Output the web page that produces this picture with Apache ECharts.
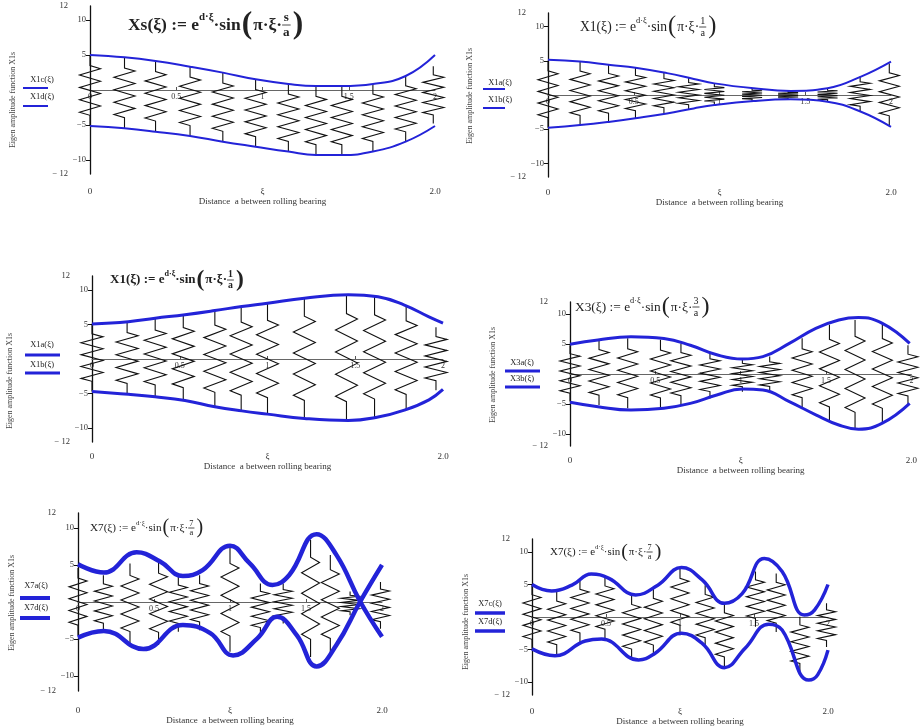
<!DOCTYPE html>
<html><head><meta charset="utf-8">
<script src="https://cdn.jsdelivr.net/npm/echarts@6/dist/echarts.min.js"></script>
<style>html,body{margin:0;padding:0;background:#fff}#c{width:920px;height:727px}</style>
</head><body><div id="c"></div>
<script>
// ---------------- DATA ----------------
// Panel 1 : Xs
const p1X      = [0, 0.2, 0.38, 0.58, 0.77, 0.96, 1.15, 1.31, 1.46, 1.64, 1.83, 2.0];
const p1Upper  = [5.0, 4.67, 4.14, 3.33, 2.48, 1.52, 0.86, 0.57, 0.57, 0.86, 2.0, 5.0];
const p1Lower  = [-5.14, -5.48, -5.95, -6.57, -7.38, -8.1, -8.8, -9.29, -9.29, -8.8, -7.38, -5.14];
const p1SpringX   = [0, 0.2, 0.38, 0.58, 0.77, 0.96, 1.15, 1.31, 1.46, 1.64, 1.83, 1.99];
const p1SpringTop = [5.0, 4.67, 4.14, 3.33, 2.48, 1.52, 0.86, 0.57, 0.57, 0.86, 2.0, 3.4];
const p1SpringBot = [-5.14, -5.48, -5.95, -6.57, -7.38, -8.1, -8.8, -9.29, -9.29, -8.8, -7.38, -4.8];
// Panel 2 : X1 (pinched)
const p2X      = [0, 0.187, 0.363, 0.51, 0.694, 0.85, 0.97, 1.2, 1.415, 1.63, 1.825, 2.0];
const p2Upper  = [5.15, 4.9, 4.4, 4.0, 3.2, 2.35, 1.7, 0.98, 0.6, 0.98, 2.7, 4.9];
const p2Lower  = [-4.8, -4.4, -3.9, -3.4, -2.7, -1.96, -1.47, -0.88, -0.64, -0.98, -2.45, -4.66];
const p2SpringX   = [0, 0.187, 0.353, 0.51, 0.676, 0.82, 0.97, 1.19, 1.40, 1.63, 1.82, 1.99];
const p2SpringTop = [5.0, 4.9, 4.4, 4.0, 3.3, 2.5, 1.7, 1.0, 0.6, 1.0, 2.7, 4.6];
const p2SpringBot = [-4.8, -4.4, -3.9, -3.4, -2.75, -2.1, -1.5, -0.9, -0.64, -1.0, -2.4, -4.4];
// Panel 3 : X1 (bulged)
const p3X      = [0, 0.207, 0.36, 0.53, 0.70, 0.853, 1.0, 1.21, 1.46, 1.63, 1.78, 1.92, 2.0];
const p3Upper  = [5.07, 5.4, 5.9, 6.4, 7.0, 7.6, 8.07, 8.8, 9.3, 9.0, 7.8, 6.1, 5.2];
const p3Lower  = [-4.7, -5.1, -5.46, -6.0, -6.9, -7.5, -7.97, -8.6, -8.9, -8.4, -7.4, -5.9, -4.4];
const p3SpringX   = [0, 0.2, 0.36, 0.52, 0.70, 0.85, 1.0, 1.21, 1.45, 1.61, 1.79, 1.96];
const p3SpringTop = [5.1, 5.4, 5.9, 6.4, 7.0, 7.6, 8.0, 8.8, 9.3, 9.0, 7.8, 4.6];
const p3SpringBot = [-4.7, -5.1, -5.46, -6.0, -6.9, -7.5, -8.0, -8.6, -8.9, -8.4, -7.4, -4.5];
// Panel 4 : X3
const p4X      = [0, 0.164, 0.357, 0.55, 0.705, 0.86, 1.01, 1.13, 1.285, 1.44, 1.575, 1.69, 1.83, 1.99];
const p4Upper  = [4.95, 5.67, 6.2, 5.9, 4.8, 3.2, 2.5, 2.9, 5.1, 7.6, 9.0, 9.4, 8.45, 5.1];
const p4Lower  = [-4.7, -5.45, -6.0, -5.7, -4.9, -3.5, -2.5, -2.65, -4.6, -6.8, -8.5, -9.2, -8.2, -4.9];
const p4SpringX   = [0, 0.17, 0.338, 0.53, 0.65, 0.82, 1.01, 1.17, 1.36, 1.52, 1.67, 1.83, 1.98];
const p4SpringTop = [4.8, 5.7, 5.95, 5.7, 5.1, 3.7, 2.6, 2.9, 5.95, 8.2, 9.0, 8.4, 4.8];
const p4SpringBot = [-4.6, -5.17, -5.7, -5.7, -5.17, -4.1, -2.95, -2.95, -5.7, -7.9, -9.1, -8.2, -5.17];
// Panel 5 : X7 (crossing)
const p5UpperX = [0, 0.17, 0.386, 0.54, 0.69, 0.82, 1.0, 1.13, 1.28, 1.39, 1.57, 1.70, 1.855, 2.0];
const p5Upper  = [5.1, 3.97, 6.7, 5.45, 3.5, 4.3, 7.6, 5.2, 2.3, 3.65, 9.15, 6.35, 0.1, -4.7];
const p5LowerX = [0, 0.17, 0.43, 0.69, 0.87, 1.02, 1.18, 1.31, 1.44, 1.57, 1.70, 1.855, 2.0];
const p5Lower  = [-4.8, -3.9, -6.35, -3.1, -4.2, -7.2, -4.9, -2.0, -4.5, -8.7, -5.8, 0, 5.0];
const p5SpringX   = [0, 0.167, 0.342, 0.53, 0.66, 0.80, 1.0, 1.20, 1.35, 1.53, 1.66, 1.79, 1.99];
const p5SpringTop = [4.6, 3.6, 5.2, 5.6, 3.4, 3.6, 7.3, 2.5, 2.5, 8.4, 6.35, 1.4, 2.7];
const p5SpringBot = [-4.5, -4.0, -5.6, -5.8, -4.0, -3.8, -6.7, -4.5, -2.9, -7.4, -6.9, -1.8, -3.6];
// Panel 6 : X7
const p6UpperX = [0, 0.133, 0.27, 0.40, 0.52, 0.70, 0.85, 1.01, 1.15, 1.30, 1.42, 1.57, 1.69, 1.84, 1.91, 2.0];
const p6Upper  = [5.0, 4.0, 4.9, 6.6, 5.95, 3.4, 4.9, 7.6, 5.7, 2.1, 3.6, 9.0, 7.0, 0.3, 1.1, 5.0];
const p6LowerX = [0, 0.155, 0.36, 0.47, 0.72, 0.83, 1.01, 1.15, 1.30, 1.44, 1.60, 1.69, 1.87, 1.93, 2.0];
const p6Lower  = [-4.9, -5.95, -3.7, -3.4, -6.6, -5.6, -2.5, -4.05, -7.8, -4.8, -1.1, -2.0, -9.7, -8.9, -5.1];
const p6SpringX   = [0, 0.167, 0.324, 0.493, 0.673, 0.82, 1.0, 1.17, 1.30, 1.51, 1.65, 1.81, 1.99];
const p6SpringTop = [4.9, 3.9, 5.7, 6.2, 3.4, 4.4, 7.5, 4.9, 2.1, 7.0, 6.7, 0.05, 2.1];
const p6SpringBot = [-4.9, -5.7, -3.9, -3.3, -6.4, -5.85, -2.8, -4.6, -7.6, -1.5, -2.3, -8.4, -4.6];

// tick labels / texts
const xZeroTicks   = [0, 0.5, 1, 1.5, 2];
const xBottomTicks = [0, 1, 2];
const xBottomLabels = {0: '0', 1: 'ξ', 2: '2.0'};
const yTickValues  = [-10, -5, 5, 10];
const yLabelValues = [-12, -10, -5, 5, 10, 12];
const legendNames = [['X1c(ξ)', 'X1d(ξ)'], ['X1a(ξ)', 'X1b(ξ)'], ['X1a(ξ)', 'X1b(ξ)'],
                     ['X3a(ξ)', 'X3b(ξ)'], ['X7a(ξ)', 'X7d(ξ)'], ['X7c(ξ)', 'X7d(ξ)']];
const formulaNames = ['Xs', 'X1', 'X1', 'X3', 'X7', 'X7'];
const formulaNums  = ['s', '1', '1', '3', '7', '7'];
const yTitle = 'Eigen amplitude function X1s';
const xTitle = 'Distance  a between rolling bearing';

// ---------------- LAYOUT / STYLE ----------------
const BLUE = '#2323d8';
const FONT = 'Liberation Serif';
const panels = [
  {grid:{left:90, top:6, width:345, height:168}, ux:p1X, u:p1Upper, lx:p1X, l:p1Lower,
   sx:p1SpringX, st:p1SpringTop, sb:p1SpringBot, lw:2, sw:10.5, lm:13, ng:21,
   yt:[13,100], f:{x:128, y:25, w:180, bold:true}, lg:{cx:42, x1:23, x2:48, ty:[80,97], ly:[88,106], lw:2}},
  {grid:{left:548, top:13, width:343, height:164}, ux:p2X, u:p2Upper, lx:p2X, l:p2Lower,
   sx:p2SpringX, st:p2SpringTop, sb:p2SpringBot, lw:2, sw:10, lm:11, ng:20,
   yt:[470,96], f:{x:580, y:27, w:140, bold:false}, lg:{cx:500, x1:483, x2:505, ty:[83,100], ly:[89,108], lw:2}},
  {grid:{left:92, top:276, width:351, height:166}, ux:p3X, u:p3Upper, lx:p3X, l:p3Lower,
   sx:p3SpringX, st:p3SpringTop, sb:p3SpringBot, lw:3, sw:11, lm:10, ng:17,
   yt:[10,381], f:{x:110, y:280, w:137, bold:true}, lg:{cx:42, x1:25, x2:60, ty:[345,365], ly:[355,373], lw:3}},
  {grid:{left:570, top:302, width:345, height:144}, ux:p4X, u:p4Upper, lx:p4X, l:p4Lower,
   sx:p4SpringX, st:p4SpringTop, sb:p4SpringBot, lw:3, sw:10, lm:10, ng:14,
   yt:[493,375], f:{x:575, y:307, w:138, bold:false}, lg:{cx:522, x1:505, x2:540, ty:[363,379], ly:[371,387], lw:3}},
  {grid:{left:78, top:513, width:304, height:178}, ux:p5UpperX, u:p5Upper, lx:p5LowerX, l:p5Lower,
   sx:p5SpringX, st:p5SpringTop, sb:p5SpringBot, lw:4.5, sw:9, lm:15, ng:21,
   yt:[12,603], f:{x:90, y:528, w:115, bold:false}, lg:{cx:36, x1:20, x2:50, ty:[586,608], ly:[598,618], lw:4}},
  {grid:{left:532, top:539, width:296, height:156}, ux:p6UpperX, u:p6Upper, lx:p6LowerX, l:p6Lower,
   sx:p6SpringX, st:p6SpringTop, sb:p6SpringBot, lw:3.5, sw:9, lm:12, ng:18,
   yt:[466,622], f:{x:550, y:552, w:113, bold:false}, lg:{cx:490, x1:475, x2:505, ty:[604,622], ly:[613,631], lw:3.5}}
];

// text measuring for formula layout
const mctx = document.createElement('canvas').getContext('2d');
function tw(text, size, bold) { mctx.font = (bold ? 'bold ' : '') + size + 'px "' + FONT + '"'; return mctx.measureText(text).width; }

function formulaElements(cfg, name, num) {
  const b = cfg.bold;
  const parts = (s) => [
    {t: name + '(ξ) := e', s: s, dy: 0},
    {t: 'd·ξ', s: s * 0.62, dy: -s * 0.45},
    {t: '·sin', s: s, dy: 0},
    {t: '(', s: s * 1.8, dy: 0, paren: true},
    {t: 'π·ξ·', s: s, dy: 0},
    {frac: true, s: s * 0.75},
    {t: ')', s: s * 1.8, dy: 0, paren: true}
  ];
  const widthAt = (s) => parts(s).reduce((a, p) => a + (p.frac ? tw(num, p.s, b) + 3 : tw(p.t, p.s, b) + (p.paren ? 2 : 0)), 0);
  const s = 10 * cfg.w / widthAt(10);
  let x = cfg.x; const els = [];
  parts(s).forEach(p => {
    if (p.frac) {
      const w = Math.max(tw(num, p.s, b), tw('a', p.s, b)) + 2;
      els.push({type:'text', x: x + w / 2, y: cfg.y - p.s * 0.55, style:{text:num, fontSize:p.s, fontFamily:FONT, fontWeight: b?'bold':'normal', fill:'#222', align:'center', verticalAlign:'middle'}});
      els.push({type:'line', shape:{x1:x, y1:cfg.y, x2:x + w, y2:cfg.y}, style:{stroke:'#222', lineWidth:0.8}});
      els.push({type:'text', x: x + w / 2, y: cfg.y + p.s * 0.6, style:{text:'a', fontSize:p.s, fontFamily:FONT, fontWeight: b?'bold':'normal', fill:'#222', align:'center', verticalAlign:'middle'}});
      x += w + 1;
    } else {
      els.push({type:'text', x: x + (p.paren ? 1 : 0), y: cfg.y + p.dy, style:{text:p.t, fontSize:p.s, fontFamily:FONT, fontWeight: b?'bold':'normal', fill:'#222', align:'left', verticalAlign:'middle'}});
      x += tw(p.t, p.s, b) + (p.paren ? 2 : 0);
    }
  });
  return els;
}

function springRenderer(halfW) {
  return function (params, api) {
    const x = api.value(0), top = api.value(1), bot = api.value(2);
    const a = api.coord([x, top]), c = api.coord([x, bot]);
    const len = c[1] - a[1];
    const zt = a[1] + len * 0.15, zb = c[1] - len * 0.15;
    const n = 8, h = (zb - zt) / n;
    const pts = [[a[0], a[1]], [a[0], zt]];
    for (let i = 0; i < n; i++) pts.push([a[0] + (i % 2 === 0 ? halfW : -halfW), zt + (i + 0.5) * h]);
    pts.push([a[0], zb], [c[0], c[1]]);
    return {type:'polyline', shape:{points:pts}, style:{stroke:'#111', fill:null, lineWidth:1.1}};
  };
}

const grid = [], xAxis = [], yAxis = [], series = [], graphic = [];
const txt = {fontFamily: FONT, color: '#333'};
panels.forEach((p, i) => {
  grid.push(Object.assign({containLabel:false}, p.grid));
  // axis along the zero line (y = 0 sits at mid-height because y runs -12..12)
  xAxis.push({gridIndex:i, type:'value', min:0, max:2, position:'bottom', offset:-p.grid.height / 2,
    axisLine:{onZero:false, lineStyle:{color:'#666', width:1}},
    axisTick:{show:true, customValues:[0.5, 1, 1.5], length:3, inside:true, lineStyle:{color:'#555'}},
    axisLabel:{customValues:xZeroTicks, fontSize:8, margin:3, formatter:(v) => String(v), ...txt},
    splitLine:{show:false}});
  xAxis.push({gridIndex:i, type:'value', min:0, max:2, position:'bottom',
    axisLine:{show:false, onZero:false}, axisTick:{show:false},
    axisLabel:{customValues:xBottomTicks, fontSize:9, margin:p.lm, formatter:(v) => xBottomLabels[v], ...txt},
    splitLine:{show:false},
    name:xTitle, nameLocation:'middle', nameGap:p.ng, nameTextStyle:{fontSize:9, ...txt}});
  yAxis.push({gridIndex:i, type:'value', min:-12, max:12,
    axisLine:{onZero:false, lineStyle:{color:'#111', width:1.3}},
    axisTick:{show:true, customValues:yTickValues, length:4, lineStyle:{color:'#111'}},
    axisLabel:{customValues:yLabelValues, fontSize:8.5, margin:4, ...txt,
      formatter:(v) => Math.abs(v) === 12 ? '{f|' + (v < 0 ? '− 12' : '12') + '}' : (v < 0 ? '−' + Math.abs(v) : String(v)),
      rich:{f:{padding:[0, 18, 0, 0], fontSize:8.5, fontFamily:FONT, color:'#333'}}},
    splitLine:{show:false}});
  series.push({type:'custom', name:'springs' + (i + 1), xAxisIndex:2 * i, yAxisIndex:i, clip:false, z:2,
    renderItem:springRenderer(p.sw),
    data:p.sx.map((x, k) => [x, p.st[k], p.sb[k]])});
  series.push({type:'line', name:legendNames[i][0], xAxisIndex:2 * i, yAxisIndex:i, clip:false, z:3,
    smooth:0.45, showSymbol:false, symbol:'none', lineStyle:{color:BLUE, width:p.lw},
    data:p.ux.map((x, k) => [x, p.u[k]])});
  series.push({type:'line', name:legendNames[i][1], xAxisIndex:2 * i, yAxisIndex:i, clip:false, z:3,
    smooth:0.45, showSymbol:false, symbol:'none', lineStyle:{color:BLUE, width:p.lw},
    data:p.lx.map((x, k) => [x, p.l[k]])});
  graphic.push({type:'text', x:p.yt[0], y:p.yt[1], rotation:Math.PI / 2,
    style:{text:yTitle, fontSize:8, fontFamily:FONT, fill:'#444', align:'center', verticalAlign:'middle'}});
  for (let k = 0; k < 2; k++) {
    graphic.push({type:'text', x:p.lg.cx, y:p.lg.ty[k],
      style:{text:legendNames[i][k], fontSize:8.5, fontFamily:FONT, fill:'#222', align:'center', verticalAlign:'middle'}});
    graphic.push({type:'line', shape:{x1:p.lg.x1, y1:p.lg.ly[k], x2:p.lg.x2, y2:p.lg.ly[k]},
      style:{stroke:BLUE, lineWidth:p.lg.lw}});
  }
  formulaElements(p.f, formulaNames[i], formulaNums[i]).forEach(e => graphic.push(e));
});

const chart = echarts.init(document.getElementById('c'), null, {renderer:'canvas'});
chart.setOption({animation:false, backgroundColor:'#fff', grid, xAxis, yAxis, series, graphic});
</script></body></html>
